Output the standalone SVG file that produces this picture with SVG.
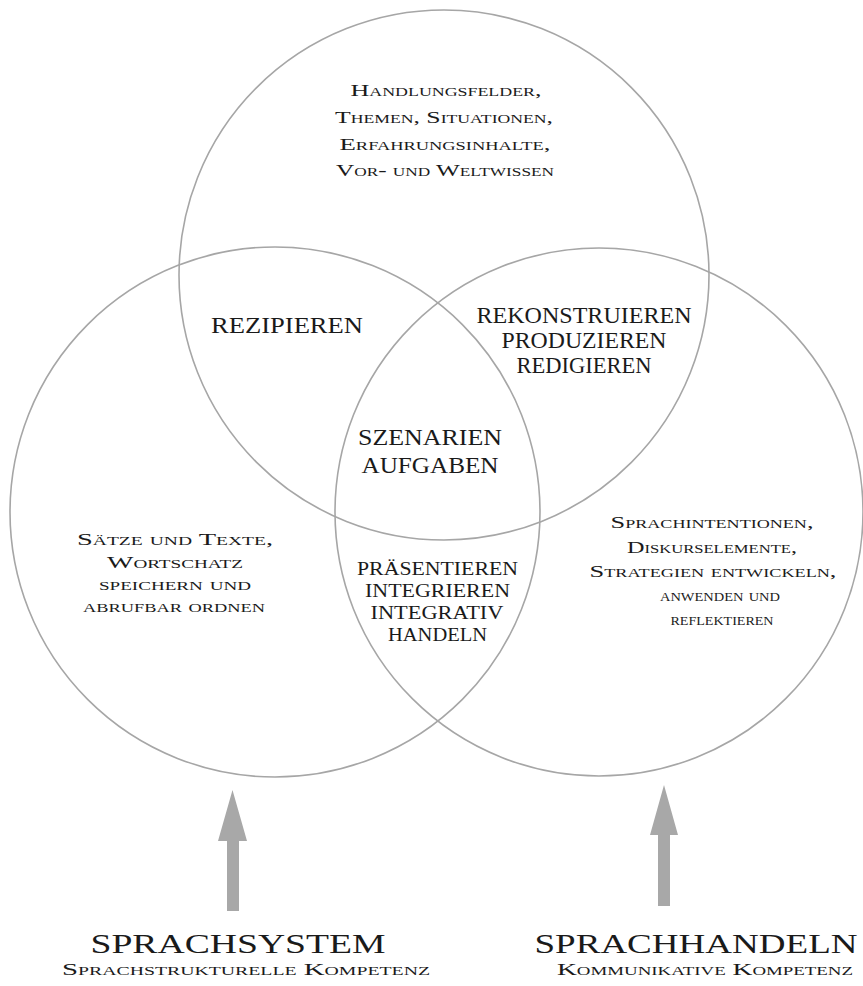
<svg xmlns="http://www.w3.org/2000/svg" width="863" height="986" viewBox="0 0 863 986">
  <style>
    .ring { fill: none; stroke: #a6a6a6; stroke-width: 1.6; }
    .arrow { fill: #a8a8a8; stroke: none; }
    text { font-family: "Liberation Serif", "Times New Roman", serif; fill: #1a1a1a; text-anchor: middle; }
    .sc { font-variant: small-caps; font-size: 17.5px; }
    .big { font-size: 22.5px; }
    .mid { font-size: 19px; }
    .title { font-size: 27px; }
    .sub { font-variant: small-caps; font-size: 17.5px; }
  </style>
  <rect width="863" height="986" fill="#ffffff"/>

  <!-- three overlapping competence circles -->
  <g id="circle-context">
    <circle class="ring" cx="444" cy="275" r="265"/>
    <text class="sc" x="446" y="96" textLength="191" lengthAdjust="spacingAndGlyphs">Handlungsfelder,</text>
    <text class="sc" x="444" y="123" textLength="218" lengthAdjust="spacingAndGlyphs">Themen, Situationen,</text>
    <text class="sc" x="445" y="150" textLength="211" lengthAdjust="spacingAndGlyphs">Erfahrungsinhalte,</text>
    <text class="sc" x="445" y="176" textLength="218" lengthAdjust="spacingAndGlyphs">Vor- und Weltwissen</text>
  </g>

  <g id="circle-system">
    <circle class="ring" cx="275" cy="512" r="265"/>
    <text class="sc" x="175" y="545" textLength="196" lengthAdjust="spacingAndGlyphs">Sätze und Texte,</text>
    <text class="sc" x="175" y="568" textLength="136" lengthAdjust="spacingAndGlyphs">Wortschatz</text>
    <text class="sc" x="175" y="590" textLength="152" lengthAdjust="spacingAndGlyphs">speichern und</text>
    <text class="sc" x="174" y="612" textLength="182" lengthAdjust="spacingAndGlyphs">abrufbar ordnen</text>
  </g>

  <g id="circle-action">
    <circle class="ring" cx="599" cy="512" r="264"/>
    <text class="sc" x="712" y="528" textLength="203" lengthAdjust="spacingAndGlyphs">Sprachintentionen,</text>
    <text class="sc" x="712" y="553" textLength="170" lengthAdjust="spacingAndGlyphs">Diskurselemente,</text>
    <text class="sc" x="713" y="577" textLength="247" lengthAdjust="spacingAndGlyphs">Strategien entwickeln,</text>
    <text class="sc" x="720" y="601" textLength="120" lengthAdjust="spacingAndGlyphs">anwenden und</text>
    <text class="sc" x="722" y="625" textLength="103" lengthAdjust="spacingAndGlyphs">reflektieren</text>
  </g>

  <!-- overlap regions -->
  <g id="overlap-receive">
    <text class="big" x="287" y="333" textLength="152" lengthAdjust="spacingAndGlyphs">REZIPIEREN</text>
  </g>

  <g id="overlap-produce">
    <text class="big" x="584" y="323" textLength="215" lengthAdjust="spacingAndGlyphs">REKONSTRUIEREN</text>
    <text class="big" x="584" y="348" textLength="165" lengthAdjust="spacingAndGlyphs">PRODUZIEREN</text>
    <text class="big" x="584" y="373" textLength="135" lengthAdjust="spacingAndGlyphs">REDIGIEREN</text>
  </g>

  <g id="overlap-center">
    <text class="big" x="430" y="445" textLength="144" lengthAdjust="spacingAndGlyphs">SZENARIEN</text>
    <text class="big" x="430" y="473" textLength="137" lengthAdjust="spacingAndGlyphs">AUFGABEN</text>
  </g>

  <g id="overlap-integrate">
    <text class="mid" x="437.5" y="575" textLength="161" lengthAdjust="spacingAndGlyphs">PRÄSENTIEREN</text>
    <text class="mid" x="437.5" y="597" textLength="145" lengthAdjust="spacingAndGlyphs">INTEGRIEREN</text>
    <text class="mid" x="437" y="619" textLength="133" lengthAdjust="spacingAndGlyphs">INTEGRATIV</text>
    <text class="mid" x="437.5" y="641" textLength="99" lengthAdjust="spacingAndGlyphs">HANDELN</text>
  </g>

  <!-- upward arrows from the two foundations -->
  <g id="connectors">
    <polygon class="arrow" points="232.5,790 247,841 239,841 239,911 227,911 227,841 218,841"/>
    <polygon class="arrow" points="664,785 678,835 670,835 670,906 658,906 658,835 650,835"/>
  </g>

  <g id="base-system">
    <text class="title" x="238" y="953" textLength="295" lengthAdjust="spacingAndGlyphs">SPRACHSYSTEM</text>
    <text class="sub" x="246" y="975" textLength="368" lengthAdjust="spacingAndGlyphs">Sprachstrukturelle Kompetenz</text>
  </g>

  <g id="base-action">
    <text class="title" x="696" y="953" textLength="323" lengthAdjust="spacingAndGlyphs">SPRACHHANDELN</text>
    <text class="sub" x="705" y="975" textLength="296" lengthAdjust="spacingAndGlyphs">Kommunikative Kompetenz</text>
  </g>
</svg>
